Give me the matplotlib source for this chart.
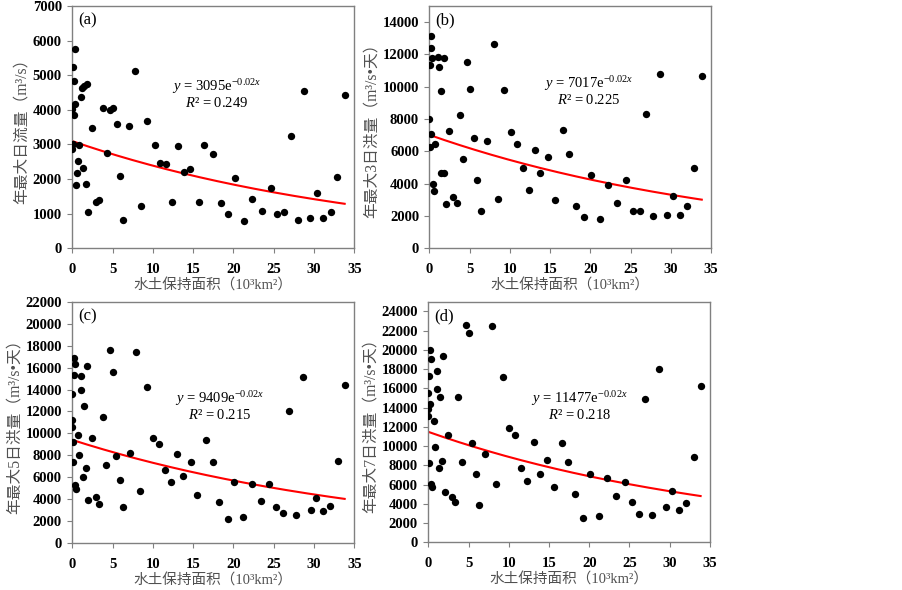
import numpy as np
import matplotlib
matplotlib.use("Agg")
import matplotlib.pyplot as plt

plt.rcParams['font.family'] = ['Liberation Serif', 'Noto Sans CJK SC', 'DejaVu Sans']
plt.rcParams['mathtext.fontset'] = 'custom'
plt.rcParams['mathtext.rm'] = 'Liberation Serif'
plt.rcParams['mathtext.it'] = 'Liberation Serif:italic'
plt.rcParams['axes.unicode_minus'] = False

# (a) annual max 1-day flow
x_a = [0.29, 0.08, 0.17, 1.16, 1.49, 1.82, 1.03, 0.33, 0.0, 0.25,
       2.44, 3.8, 4.7, 5.04, 5.5, 7.0, 7.8, 9.3, 0.78, 0.0,
       0.1, 0.7, 0.54, 1.36, 0.45, 1.69, 4.26, 5.9, 1.98, 2.9,
       3.3, 6.32, 8.5, 10.2, 10.9, 11.65, 12.4, 13.1, 13.8, 14.6,
       15.7, 16.4, 17.5, 18.45, 19.3, 20.2, 21.3, 22.3, 23.5, 24.6,
       25.4, 26.3, 27.1, 28.0, 28.8, 29.5, 30.4, 31.15, 32.1, 32.9,
       33.8]
y_a = [5750, 5230, 4840, 4630, 4690, 4740, 4370, 4160, 4016, 3850,
       3470, 4045, 3990, 4060, 3600, 3545, 5130, 3670, 2975, 2860,
       3010, 2510, 2180, 2320, 1820, 1850, 2745, 2080, 1050, 1350,
       1400, 830, 1220, 2975, 2465, 2427, 1350, 2965, 2215, 2300,
       1350, 2975, 2715, 1300, 982, 2040, 800, 1425, 1070, 1733,
       982, 1060, 3255, 830, 4555, 867, 1590, 886, 1060, 2060,
       4420]

# (b) annual max 3-day flood
x_b = [0.25, 0.17, 0.29, 0.04, 1.08, 1.16, 1.83, 1.49, 4.69, 5.1,
       7.97, 9.29, 0.0, 0.25, 0.08, 0.75, 2.49, 3.78, 5.48, 7.14,
       10.08, 10.83, 4.23, 1.49, 1.83, 0.41, 0.54, 2.07, 2.95, 3.4,
       5.93, 6.39, 8.55, 11.58, 12.4, 13.15, 13.78, 14.73, 15.6, 16.56,
       17.4, 18.2, 19.26, 20.09, 21.17, 22.24, 23.36, 24.44, 25.27, 26.22,
       26.93, 27.8, 28.67, 29.58, 30.33, 31.16, 32.03, 32.94, 33.86]
y_b = [13166, 12397, 11773, 11357, 11814, 11232, 11773, 9734, 11523, 9838,
       12667, 9776, 8008, 7093, 6240, 6448, 7238, 8278, 6802, 6635,
       7197, 6427, 5512, 4680, 4680, 3973, 3515, 2766, 3182, 2808,
       4222, 2309, 3058, 4992, 3619, 6074, 4680, 5678, 2974, 7322,
       5805, 2597, 1910, 4532, 1810, 3889, 2785, 4201, 2285, 2285,
       8300, 2016, 10800, 2057, 3265, 2078, 2622, 4970, 10693]

# (c) annual max 5-day flood
x_c = [0.25, 0.29, 0.17, 0.0, 1.78, 1.12, 1.03, 1.4, 0.0, 0.0,
       0.08, 0.7, 0.83, 0.08, 0.37, 0.41, 1.69, 1.36, 2.44, 1.98,
       2.9, 3.3, 3.76, 4.63, 5.04, 5.41, 4.17, 5.87, 6.28, 7.1,
       7.85, 8.43, 9.26, 10.0, 10.74, 11.53, 12.27, 13.0, 13.68, 14.67,
       15.5, 16.53, 17.4, 18.24, 19.28, 20.1, 21.2, 22.25, 23.37, 24.4,
       25.27, 26.2, 26.93, 27.75, 28.67, 29.57, 30.27, 31.15, 32.0, 32.93,
       33.8]
y_c = [16833, 16316, 15342, 13637, 16103, 15220, 13942, 12511, 11263, 10623,
       9193, 9863, 8006, 7397, 5297, 4901, 6849, 5997, 9558, 3957,
       4170, 3592, 11537, 17625, 15616, 7975, 7123, 5753, 3288, 8188,
       17412, 4779, 14215, 9558, 9071, 6636, 5601, 8158, 6088, 7427,
       4353, 9436, 7357, 3797, 2190, 5596, 2428, 5386, 3834, 5440,
       3341, 2766, 12077, 2556, 15180, 3040, 4162, 2948, 3405, 7449,
       14386]

# (d) annual max 7-day flood
x_d = [0.25, 0.29, 0.08, 0.0, 0.17, 0.0, 0.0, 1.78, 1.08, 1.04,
       1.41, 0.71, 2.45, 0.83, 0.08, 1.7, 1.37, 0.37, 0.46, 2.03,
       2.9, 3.32, 3.73, 4.19, 4.65, 5.06, 5.44, 5.89, 6.35, 7.1,
       7.88, 8.42, 9.25, 10.0, 10.75, 11.54, 12.32, 13.07, 13.86, 14.69,
       15.56, 16.56, 17.35, 18.2, 19.26, 20.09, 21.17, 22.24, 23.32, 24.44,
       25.27, 26.22, 26.93, 27.76, 28.63, 29.57, 30.28, 31.14, 32.05, 32.96,
       33.84]
y_d = [20034, 19030, 17300, 15466, 14359, 13805, 13079, 19376, 17784, 15881,
       15120, 12629, 11141, 9930, 8200, 8408, 7681, 6090, 5778, 5190,
       4740, 4152, 15086, 8304, 22628, 21798, 10276, 7093, 3875, 9134,
       22455, 6090, 17162, 11902, 11141, 7750, 6366, 10414, 7128, 8581,
       5709, 10276, 8333, 5031, 2563, 7146, 2740, 6667, 4823, 6281,
       4198, 2979, 14854, 2813, 17979, 3646, 5375, 3396, 4125, 8917,
       16281]

# fitted curves y = A*exp(b*x)
fit_A = [3095, 7017, 9409, 11477]
fit_b = [-0.026, -0.025, -0.025, -0.0257]
r2 = ["0.249", "0.225", "0.215", "0.218"]
ylabels = ["年最大日流量（m³/s）", "年最大3日洪量（m³/s•天）",
           "年最大5日洪量（m³/s•天）", "年最大7日洪量（m³/s•天）"]
xlabel = "水土保持面积（10³km²）"
panel_tags = ["(a)", "(b)", "(c)", "(d)"]
ymax = [7000, 15000, 22000, 25000]
ystep = [1000, 2000, 2000, 2000]
ytop_tick = [7000, 14000, 22000, 24000]

xs = [x_a, x_b, x_c, x_d]
ys = [y_a, y_b, y_c, y_d]

rects = [
    [0.0801, 0.5792, 0.3123, 0.4107],
    [0.4756, 0.5792, 0.3117, 0.4107],
    [0.0801, 0.0792, 0.3123, 0.4095],
    [0.4744, 0.0808, 0.3118, 0.4078],
]
eq_pos = [(0.513, 0.667, 0.598), (0.567, 0.678, 0.612),
          (0.524, 0.600, 0.531), (0.536, 0.598, 0.529)]

fig = plt.figure(figsize=(9.03, 5.90), dpi=100)

for i in range(4):
    ax = fig.add_axes(rects[i])
    ax.scatter(xs[i], ys[i], s=28, color='black', zorder=3, linewidths=0)
    xx = np.linspace(0, max(xs[i]), 200)
    ax.plot(xx, fit_A[i] * np.exp(fit_b[i] * xx), color='red', lw=1.5, zorder=2)

    ax.set_xlim(0, 35)
    ax.set_ylim(0, ymax[i])
    ax.set_xticks(np.arange(0, 36, 5))
    ax.set_yticks(np.arange(0, ytop_tick[i] + 1, ystep[i]))
    ax.tick_params(direction='out', length=3.5, width=0.8, color='#808080',
                   labelsize=10.5, labelcolor='black')
    ax.tick_params(axis='x', pad=7)
    ax.tick_params(axis='y', pad=4)
    for lab in ax.get_xticklabels() + ax.get_yticklabels():
        lab.set_fontweight('bold')
    for sp in ax.spines.values():
        sp.set_color('#808080')
        sp.set_linewidth(1.0)

    ax.set_ylabel(ylabels[i], fontsize=11.3, color='#505050', labelpad=2)
    ax.set_xlabel(xlabel, fontsize=10.5, color='#505050', labelpad=2)

    ax.text(0.022, 0.94, panel_tags[i], transform=ax.transAxes, fontsize=12,
            ha='left', va='center')
    ex, ey1, ey2 = eq_pos[i]
    ax.text(ex, ey1, "$y$ = %de$^{-0.02x}$" % fit_A[i], transform=ax.transAxes,
            fontsize=10.5, ha='center', va='center')
    ax.text(ex, ey2, "$R$² = " + r2[i], transform=ax.transAxes,
            fontsize=10.5, ha='center', va='center')

fig.savefig("out.png", dpi=100)
